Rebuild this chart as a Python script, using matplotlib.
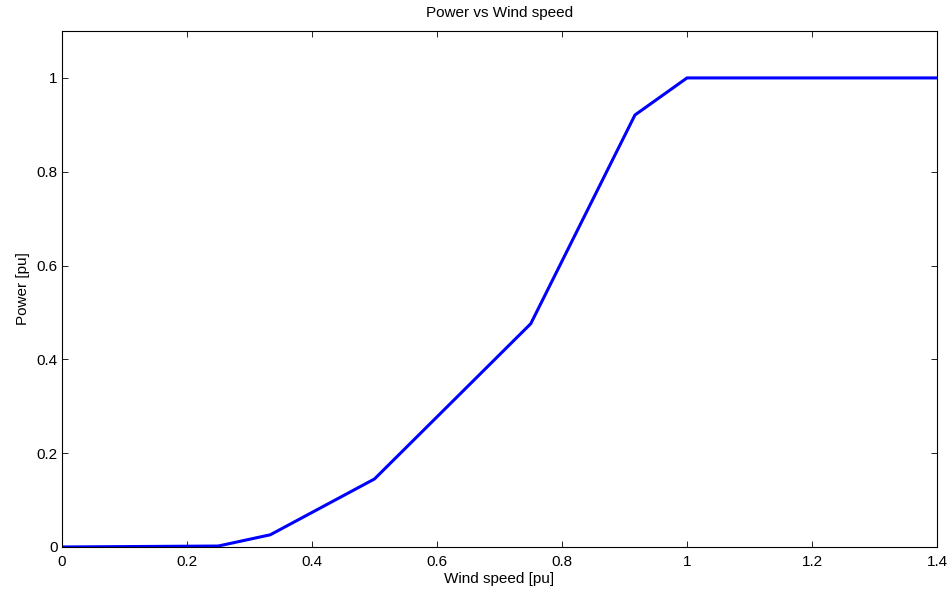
import matplotlib
matplotlib.use("Agg")
import matplotlib.pyplot as plt

plt.rcParams['font.family'] = ['Liberation Sans', 'DejaVu Sans']

wind_speed = [0.0, 0.25, 0.3333, 0.5, 0.75, 0.9167, 1.0, 1.4]
power = [0.0, 0.002, 0.026, 0.145, 0.476, 0.921, 1.0, 1.0]
xticks = [0, 0.2, 0.4, 0.6, 0.8, 1, 1.2, 1.4]
xticklabels = ['0', '0.2', '0.4', '0.6', '0.8', '1', '1.2', '1.4']
yticks = [0, 0.2, 0.4, 0.6, 0.8, 1]
yticklabels = ['0', '0.2', '0.4', '0.6', '0.8', '1']

fig = plt.figure(figsize=(9.52, 5.91), dpi=100)
ax = fig.add_axes([0.0651, 0.0745, 0.9192, 0.873])
ax.plot(wind_speed, power, color='#0000ff', linewidth=2.2, solid_joinstyle='miter')
ax.set_xlim(0, 1.4)
ax.set_ylim(0, 1.1)
ax.set_xticks(xticks)
ax.set_xticklabels(xticklabels)
ax.set_yticks(yticks)
ax.set_yticklabels(yticklabels)
ax.tick_params(direction='in', length=4, width=0.6, labelsize=11, top=True, right=True)
ax.tick_params(axis='x', pad=6)
ax.tick_params(axis='y', pad=3)
for s in ax.spines.values():
    s.set_linewidth(0.8)
ax.set_xlabel('Wind speed [pu]', fontsize=11, labelpad=2)
ax.set_ylabel('Power [pu]', fontsize=11, labelpad=5)
ax.set_title('Power vs Wind speed', fontsize=11, pad=10)
fig.savefig('out.png', dpi=100)
